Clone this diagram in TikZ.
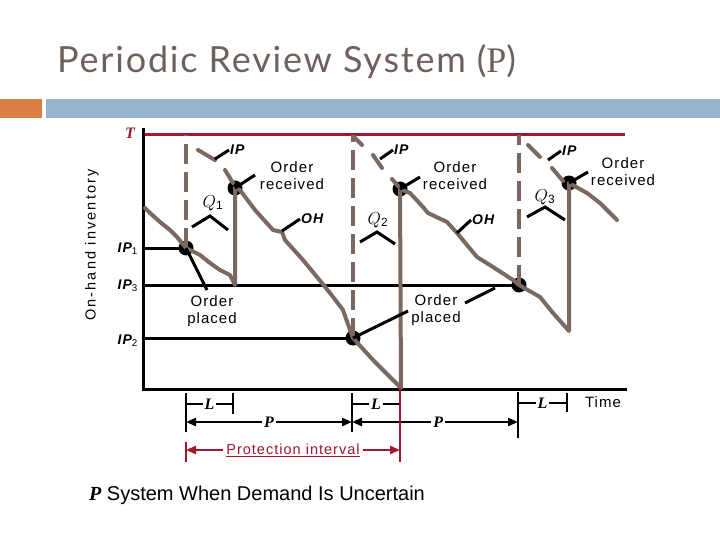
\documentclass[tikz,border=0pt]{standalone}
\usepackage{fontspec}
\setmainfont{Liberation Sans}
\newfontfamily\titlefont{Lato}[LetterSpace=5]
\newfontfamily\serifit{Liberation Serif}
\newfontfamily\lab{Liberation Sans}[LetterSpace=7]
\newfontfamily\vlab{Liberation Sans}[LetterSpace=15]
\usetikzlibrary{arrows.meta}
\definecolor{curvec}{HTML}{7A6961}
\definecolor{pred}{HTML}{A3172E}
\definecolor{barblue}{HTML}{94B4D0}
\definecolor{barorange}{HTML}{DB7E43}
\definecolor{titlec}{HTML}{6E605C}
\tikzset{
  inv/.style={curvec, line width=4pt, line join=round, line cap=round},
  dashv/.style={curvec, line width=4.5pt, dash pattern=on 20pt off 8pt},
  axisl/.style={black, line width=3pt},
  ptr/.style={black, line width=3pt},
  ivl/.style={black, line width=2.5pt},
  dotn/.style={circle, fill=black, inner sep=0pt, minimum size=15pt},
  lbl/.style={font=\lab\fontsize{15}{17}\selectfont, align=center, inner sep=1pt},
  iplbl/.style={font=\lab\bfseries\itshape\fontsize{14}{16}\selectfont, inner sep=1pt},
  qlbl/.style={font=\serifit\itshape\fontsize{17}{19}\selectfont, inner sep=1pt},
  slbl/.style={font=\serifit\bfseries\itshape\fontsize{16}{18}\selectfont, fill=white, inner sep=2pt},
  arr/.style={ivl, {Triangle[length=10pt,width=8pt]}-{Triangle[length=10pt,width=8pt]}},
}
\begin{document}
\begin{tikzpicture}[x=1pt,y=-1pt]
\useasboundingbox (0,0) rectangle (720,540);
% title and bars
\node[anchor=base west, text=titlec, inner sep=0pt, font=\titlefont\fontsize{36}{42}\selectfont] (title) at (57,73) {Periodic Review System ({\serifit P})};
\fill[barorange] (0,99) rectangle (42,118);
\fill[barblue] (46,99) rectangle (720,118);
% axes
\coordinate (ytop) at (143,128);
\coordinate (orig) at (143,389);
\coordinate (xend) at (627,389);
\draw[axisl, line join=miter] (ytop) -- (orig) -- (xend);
\coordinate (t0) at (145,135);
\coordinate (t1) at (625,135);
\draw[pred, line width=3pt] (t0) -- (t1);
\node[font=\serifit\bfseries\itshape\fontsize{16}{18}\selectfont, text=pred] (T) at (130,133) {T};
% dots
\node[dotn] (d1) at (186,248) {};
\node[dotn] (d2) at (353,338) {};
\node[dotn] (d3) at (519,285) {};
\node[dotn] (r1) at (235,188) {};
\node[dotn] (r2) at (400,189) {};
\node[dotn] (r3) at (569,183) {};
% IP levels
\coordinate (ip1) at (143,248);
\coordinate (ip3) at (143,285);
\coordinate (ip2) at (143,338);
\draw[axisl] (ip1) -- (d1.center);
\draw[axisl] (ip3) -- (d3.center);
\draw[axisl] (ip2) -- (d2.center);
% dashed review lines
\draw[dashv] (d1.center) -- (186,135);
\draw[dashv] (d2.center) -- (353,135);
\draw[dashv] (d3.center) -- (519,135);
% inventory curves
\draw[inv] (145,208) -- (150,213) -- (160,222) -- (170,230) -- (177,237) -- (d1.center) -- (200,255) -- (210,263) -- (220,270) -- (230,275) -- (235,285) -- (r1.center);
\draw[inv] (r1.center) -- (240,190) -- (255,210) -- (273,230) -- (282,232) -- (285,240) -- (303,260) -- (317,277) -- (330,293) -- (343,310) -- (350,330) -- (d2.center) -- (373,360) -- (401,388) -- (r2.center);
\draw[inv] (r2.center) -- (410,193) -- (423,207) -- (428,213) -- (447,222) -- (457,233) -- (477,257) -- (493,267) -- (513,280) -- (d3.center) -- (540,297) -- (553,313) -- (569,331) -- (r3.center);
\draw[inv] (r3.center) -- (587,193) -- (600,203) -- (617,220);
% IP segments
\draw[inv] (198,150) -- (215,160);
\draw[inv] (225,170) -- (233,183);
\draw[inv] (354,137) -- (362,145);
\draw[inv] (373,155) -- (382,168);
\draw[inv] (392,179) -- (398,186);
\draw[inv] (528,145) -- (540,157);
\draw[inv] (552,168) -- (563,181);
% IP labels
\node[iplbl, anchor=west] (ipa) at (229,150) {IP};
\node[iplbl, anchor=west] (ipb) at (393,150) {IP};
\node[iplbl, anchor=west] (ipc) at (561,151) {IP};
\draw[ptr] (215,159) -- (ipa.west);
\draw[ptr] (380,159) -- (ipb.west);
\draw[ptr] (548,160) -- (ipc.west);
% order received
\node[lbl] (or1) at (292,176) {Order\\received};
\node[lbl] (or2) at (455,176) {Order\\received};
\node[lbl] (or3) at (623,172) {Order\\received};
\draw[ptr] (r1.center) -- (255,175);
\draw[ptr] (r2.center) -- (420,177);
\draw[ptr] (r3.center) -- (588,172);
% Q labels
\node[qlbl] (q1) at (213,203) {$Q_{\mathrm 1}$};
\node[qlbl] (q2) at (378,220) {$Q_{\mathrm 2}$};
\node[qlbl] (q3) at (545,197) {$Q_{\mathrm 3}$};
\draw[ptr] (192,227) -- (210,216) -- (228,230);
\draw[ptr] (360,242) -- (377,232) -- (395,244);
\draw[ptr] (527,217) -- (545,207) -- (565,220);
% OH labels
\node[iplbl, anchor=west] (oh1) at (300,219) {OH};
\node[iplbl, anchor=west] (oh2) at (471,220) {OH};
\draw[ptr] (282,231) -- (oh1.west);
\draw[ptr] (457,233) -- (oh2.west);
% order placed
\node[lbl] (op1) at (212,311) {Order\\placed};
\node[lbl] (op2) at (436,310) {Order\\placed};
\draw[ptr] (d1.center) -- (207,290);
\draw[ptr] (d2.center) -- (408,311);
\draw[ptr] (465,303) -- (495,288);
% axis labels
\node[iplbl, anchor=east] (lip1) at (139,249) {IP$_{\mathrm 1}$};
\node[iplbl, anchor=east] (lip3) at (139,286) {IP$_{\mathrm 3}$};
\node[iplbl, anchor=east] (lip2) at (139,341) {IP$_{\mathrm 2}$};
\node[rotate=90, font=\vlab\fontsize{14.5}{16}\selectfont] (ylab) at (92,245) {On-hand inventory};
% bottom intervals
\draw[ivl] (186,393) -- (186,432);
\draw[ivl] (233,393) -- (233,414);
\draw[ivl] (352,393) -- (352,432);
\draw[ivl] (518,392) -- (518,438);
\draw[ivl] (567,393) -- (567,412);
\draw[ivl] (186,404) -- node[slbl] (L1) {L} (233,404);
\draw[ivl] (352,404) -- node[slbl] (L2) {L} (400,404);
\draw[ivl] (518,403) -- node[slbl] (L3) {L} (567,403);
\draw[arr] (186,422) -- node[slbl] (P1) {P} (352,422);
\draw[arr] (352,422) -- node[slbl, pos=0.52] (P2) {P} (518,422);
\draw[pred, line width=2.5pt] (400,388) -- (400,462);
\draw[pred, line width=2.5pt] (186,442) -- (186,462);
\draw[pred, line width=2.5pt, {Triangle[length=10pt,width=8pt]}-{Triangle[length=10pt,width=8pt]}] (186,450) -- node[fill=white, inner sep=3pt, text=pred, font=\lab\fontsize{14.5}{16}\selectfont] (prot) {\underline{Protection interval}} (400,450);
\node[font=\lab\fontsize{15}{17}\selectfont] (time) at (603,402) {Time};
% caption
\node[anchor=base west, inner sep=0pt, font=\fontsize{20}{24}\selectfont] (cap) at (89,500) {{\serifit\bfseries\itshape P} System When Demand Is Uncertain};
\end{tikzpicture}
\end{document}
